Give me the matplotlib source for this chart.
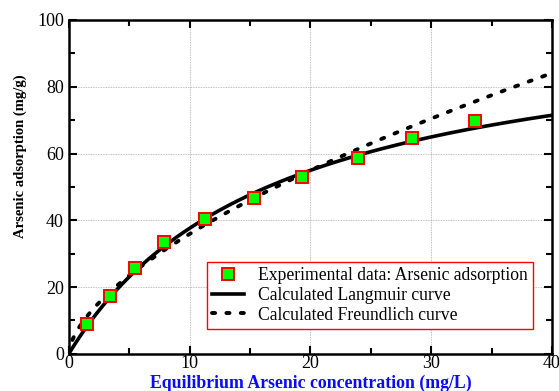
import numpy as np
import matplotlib
matplotlib.use("Agg")
import matplotlib.pyplot as plt
from matplotlib.ticker import MultipleLocator

# experimental equilibrium points (Ce in mg/L, qe in mg/g)
ce_exp = [1.5, 3.4, 5.5, 7.9, 11.3, 15.3, 19.3, 23.9, 28.4, 33.6]
qe_exp = [9.0, 17.3, 25.7, 33.4, 40.3, 46.6, 53.0, 58.8, 64.6, 69.7]

# fitted isotherm parameters
qm_langmuir = 102.1   # mg/g
k_langmuir = 0.0583   # L/mg
k_freundlich = 8.73
inv_n_freundlich = 0.614

ce_fit = np.linspace(0, 40, 400)
q_langmuir = qm_langmuir * k_langmuir * ce_fit / (1 + k_langmuir * ce_fit)
q_freundlich = k_freundlich * ce_fit ** inv_n_freundlich

plt.rcParams["font.family"] = ["Liberation Serif", "DejaVu Serif"]

fig = plt.figure(figsize=(5.59, 3.91), dpi=100)
ax = fig.add_axes([0.123, 0.095, 0.8645, 0.854])

ax.plot(ce_fit, q_langmuir, color="black", lw=2.6, label="Calculated Langmuir curve", zorder=3)
ax.plot(ce_fit, q_freundlich, color="black", lw=2.8, linestyle=(0, (0.8, 2.9)),
        dash_capstyle="round", label="Calculated Freundlich curve", zorder=3)
ax.plot(ce_exp, qe_exp, linestyle="none", marker="s", markersize=9,
        markerfacecolor="#00ff00", markeredgecolor="#ff0000", markeredgewidth=1.4,
        label="Experimental data: Arsenic adsorption", zorder=4)

ax.set_xlim(0, 40)
ax.set_ylim(0, 100)
ax.xaxis.set_major_locator(MultipleLocator(10))
ax.xaxis.set_minor_locator(MultipleLocator(5))
ax.yaxis.set_major_locator(MultipleLocator(20))
ax.yaxis.set_minor_locator(MultipleLocator(10))
ax.tick_params(which="both", direction="in", top=True, right=True, width=1.5, labelsize=13)
ax.tick_params(which="major", length=6)
ax.tick_params(which="minor", length=4)
ax.tick_params(axis="x", pad=1)
for s in ax.spines.values():
    s.set_linewidth(1.8)
ax.grid(True, which="major", color="#aaaaaa", linestyle=(0, (1, 1)), lw=0.6)

ax.set_xlabel("Equilibrium Arsenic concentration (mg/L)", fontsize=12.8, fontweight="bold",
              color="#0a0aff")
ax.xaxis.set_label_coords(0.5, -0.062)
ax.set_ylabel("Arsenic adsorption (mg/g)", fontsize=10.5, fontweight="bold")
ax.yaxis.set_label_coords(-0.087, 0.593)

handles, labels = ax.get_legend_handles_labels()
order = [2, 0, 1]
leg = ax.legend([handles[i] for i in order], [labels[i] for i in order],
                loc="lower right", bbox_to_anchor=(0.961, 0.075), borderaxespad=0,
                fontsize=12.7, frameon=True, fancybox=False, edgecolor="#ff0000",
                framealpha=1, handlelength=1.8, handletextpad=0.8, borderpad=0.3,
                labelspacing=0.15, markerscale=1.0)
leg.get_frame().set_linewidth(1.0)

fig.savefig("out.png", dpi=100)
